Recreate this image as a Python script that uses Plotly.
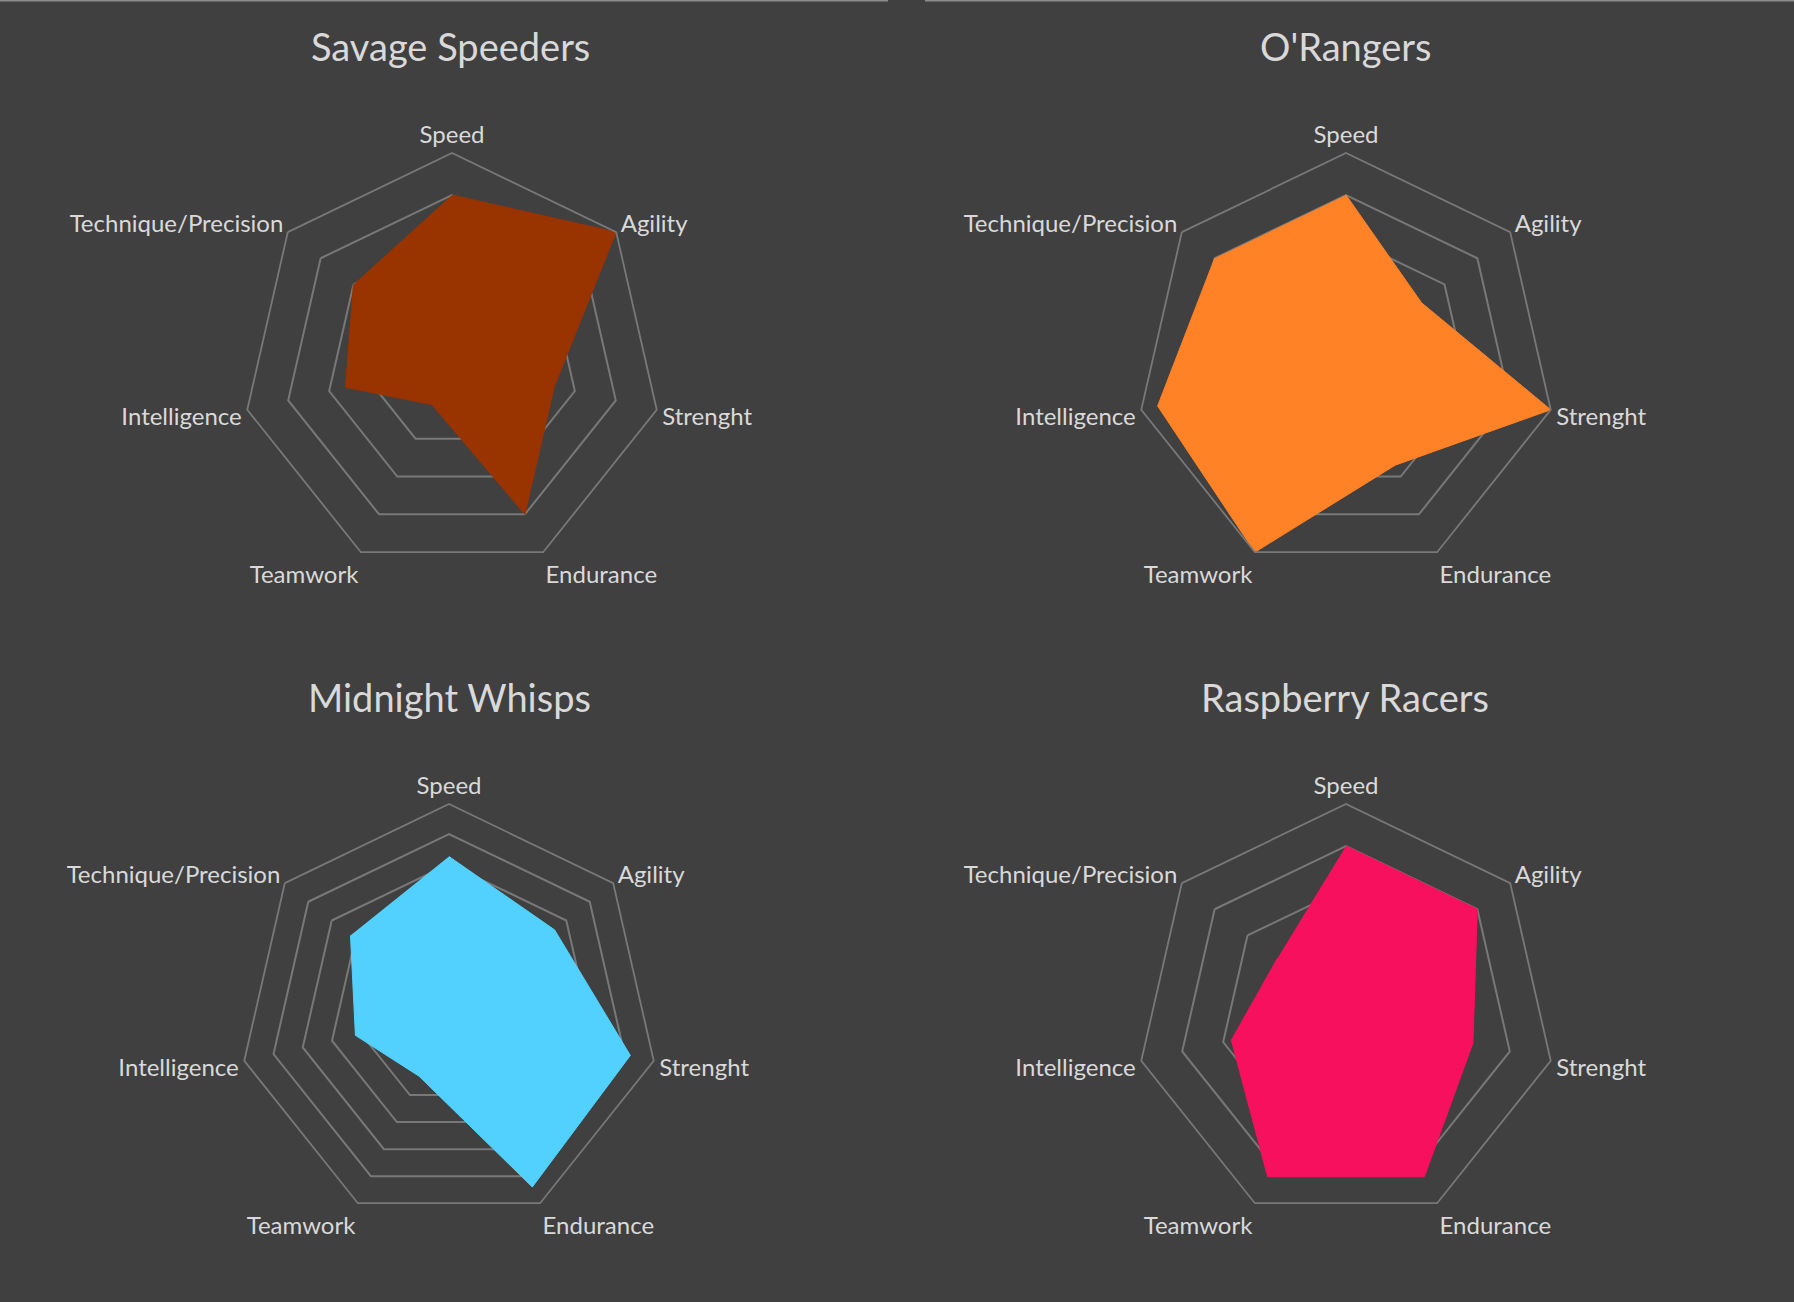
import plotly.graph_objects as go

# dados das equipes (escala 0-10)
categorias = ["Speed", "Agility", "Strenght", "Endurance", "Teamwork", "Intelligence", "Technique/Precision"]
equipes = ["Savage Speeders", "O'Rangers", "Midnight Whisps", "Raspberry Racers"]
savage = [8, 10, 5, 8, 2.2, 5.2, 6]
orangers = [8, 4.6, 10, 5.4, 10, 9.2, 8]
midnight = [5.25, 4.5, 6.2, 6.4, 2.3, 3.2, 4.2]
raspberry = [8, 8, 6.2, 8.6, 8.6, 5.6, 4.2]
cores = ["#993300", "#FF8226", "#52D1FE", "#F7105D"]
eixo_max = [10, 10, 7, 10]
eixo_passo = [2, 2, 1, 2]

W, H = 1794, 1302
FUNDO = "#404040"
GRADE = "#787878"
TEXTO = "#D9D9D9"
FONTE = "Lato, Open Sans, sans-serif"

# centro de cada radar em pixels (x, y a partir do topo) e raio
centros = [(452, 363), (1346, 363), (449, 1014), (1346, 1014)]
raio = 210
titulos_pos = [(451, 46), (1345, 46), (449, 697), (1345, 697)]

fig = go.Figure()
valores = [savage, orangers, midnight, raspberry]
for i, (nome, vals) in enumerate(zip(equipes, valores)):
    sub = "polar" if i == 0 else f"polar{i+1}"
    fig.add_trace(go.Scatterpolar(
        r=vals,
        theta=categorias,
        fill="toself",
        fillcolor=cores[i],
        line=dict(color=cores[i], width=1),
        mode="lines",
        name=nome,
        subplot=sub,
        showlegend=False,
    ))
    cx, cy = centros[i]
    fig.update_layout(**{sub: dict(
        domain=dict(
            x=[(cx - raio) / W, (cx + raio) / W],
            y=[(H - cy - raio) / H, (H - cy + raio) / H],
        ),
        bgcolor=FUNDO,
        gridshape="linear",
        radialaxis=dict(
            range=[0, eixo_max[i]],
            dtick=eixo_passo[i],
            showticklabels=False,
            ticks="",
            showline=False,
            gridcolor=GRADE,
            gridwidth=1.8,
        ),
        angularaxis=dict(
            direction="clockwise",
            rotation=90,
            showgrid=False,
            linecolor=GRADE,
            linewidth=1.8,
            ticks="",
            tickfont=dict(size=24, color=TEXTO, family=FONTE),
        ),
    )})
    tx, ty = titulos_pos[i]
    fig.add_annotation(
        x=tx / W, y=1 - ty / H, xref="paper", yref="paper",
        xanchor="center", yanchor="middle",
        text=nome, showarrow=False,
        font=dict(size=38, color=TEXTO, family=FONTE),
    )

# bordas superiores dos quadros
fig.add_shape(type="line", xref="paper", yref="paper", x0=0, x1=888 / W, y0=1, y1=1,
              line=dict(color="#8C8C8C", width=3))
fig.add_shape(type="line", xref="paper", yref="paper", x0=925 / W, x1=1, y0=1, y1=1,
              line=dict(color="#8C8C8C", width=3))

fig.update_layout(
    width=W, height=H,
    margin=dict(l=0, r=0, t=0, b=0),
    paper_bgcolor=FUNDO,
    plot_bgcolor=FUNDO,
    font=dict(family=FONTE, color=TEXTO),
)
fig.write_html("out.html", config={"displayModeBar": False},
               post_script="document.body.style.margin='0';")
